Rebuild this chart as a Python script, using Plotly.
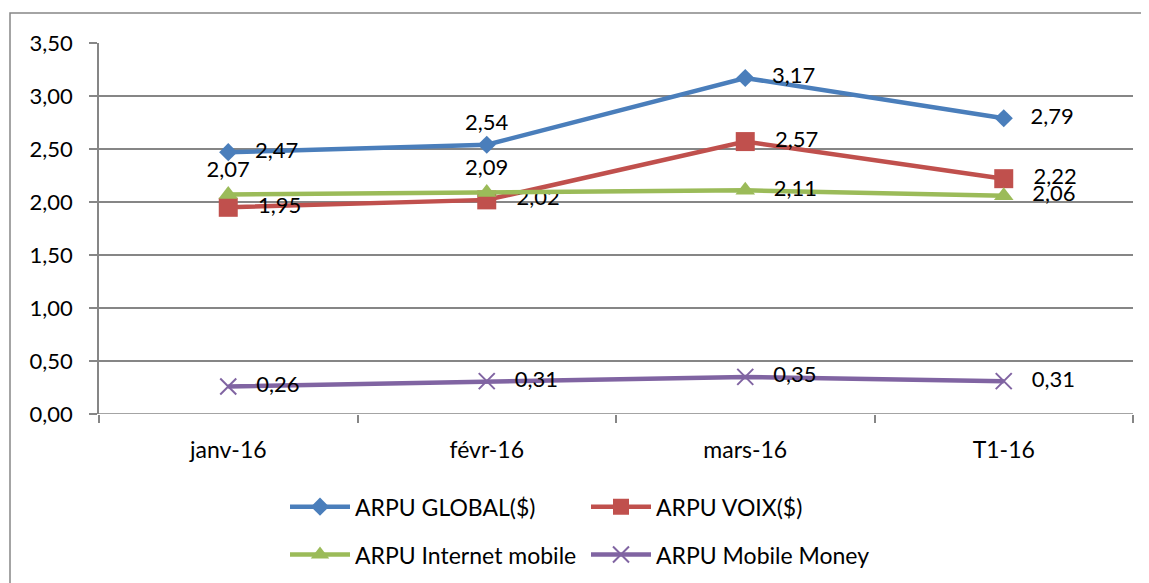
import plotly.graph_objects as go

categories = ["janv-16", "févr-16", "mars-16", "T1-16"]
arpu_global = [2.47, 2.54, 3.17, 2.79]
arpu_voix = [1.95, 2.02, 2.57, 2.22]
arpu_internet = [2.07, 2.09, 2.11, 2.06]
arpu_mm = [0.26, 0.31, 0.35, 0.31]
y_ticks = [0, 0.5, 1, 1.5, 2, 2.5, 3, 3.5]

FONT = "Lato"
FS = 22
fig = go.Figure()

def add(name, y, color, symbol, size, positions, legend, mline=None):
    marker = dict(symbol=symbol, size=size, color=color)
    if mline:
        marker["line"] = dict(color=color, width=mline)
    labels = [("\u00a0\u00a0\u00a0" if p == "middle right" else "") + f"{v:.2f}".replace(".", ",")
              for v, p in zip(y, positions)]
    fig.add_trace(go.Scatter(
        x=categories, y=y, name=name, mode="lines+markers+text",
        line=dict(color=color, width=4.5),
        marker=marker,
        text=labels, textposition=positions,
        textfont=dict(family=FONT, size=FS, color="black"),
        legend=legend, cliponaxis=False, hoverinfo="x+y+name",
    ))

add("ARPU GLOBAL($)", arpu_global, "#4A7EBB", "diamond", 14,
    ["middle right", "top center", "middle right", "middle right"], "legend")
add("ARPU VOIX($)", arpu_voix, "#C0504D", "square", 19,
    ["middle right"] * 4, "legend2")
add("ARPU Internet mobile", arpu_internet, "#9BBB59", "triangle-up", 17,
    ["top center", "top center", "middle right", "middle right"], "legend3")
add("ARPU Mobile Money", arpu_mm, "#8064A2", "x-thin", 16,
    ["middle right"] * 4, "legend4", mline=2)

grid = "#868686"
# page body has an 8px margin: plot area at x 99..1133, y 43..414 in the screenshot
L, T, PW, PH = 91, 35, 1034, 371
col1 = (285 - 99) / PW
col2 = (586 - 99) / PW
row1 = -0.25
row2 = -0.379

def leg(x, y):
    return dict(orientation="v", x=x, xanchor="left", y=y, yanchor="middle",
                itemwidth=60, font=dict(family=FONT, size=23),
                bgcolor="rgba(0,0,0,0)")

fig.update_layout(
    width=1149, height=583,
    margin=dict(l=L, r=1149 - L - PW, t=T, b=583 - T - PH),
    paper_bgcolor="white", plot_bgcolor="white",
    separators=", ",
    font=dict(family=FONT, size=FS, color="black"),
    xaxis=dict(type="category", range=[-0.5, 3.5], showgrid=False,
               showline=False, ticks="outside", tickson="boundaries",
               ticklen=8, tickcolor=grid, tickwidth=1.5, ticklabelstandoff=20,
               tickfont=dict(family=FONT, size=23), zeroline=False),
    yaxis=dict(range=[0, 3.5], tickvals=y_ticks, tickformat=".2f",
               showgrid=True, gridcolor=grid, gridwidth=1.5,
               showline=True, linecolor=grid, linewidth=1.5,
               ticks="outside", ticklen=8, tickcolor=grid, tickwidth=1.5,
               ticklabelstandoff=12,
               tickfont=dict(family=FONT, size=FS), zeroline=False),
    legend=leg(col1, row1),
    legend2=leg(col2, row1),
    legend3=leg(col1, row2),
    legend4=leg(col2, row2),
    showlegend=True,
)

# chart border (Excel chart area frame)
fig.add_shape(type="rect", xref="paper", yref="paper",
              x0=(10 - 99) / PW, x1=(1170 - 99) / PW,
              y0=(414 - 600) / PH, y1=(414 - 13) / PH,
              line=dict(color=grid, width=1.5), layer="below")
fig.add_shape(type="line", xref="paper", yref="y",
              x0=0, x1=1, y0=0, y1=0, line=dict(color=grid, width=1.5))

fig.write_html("out.html")
